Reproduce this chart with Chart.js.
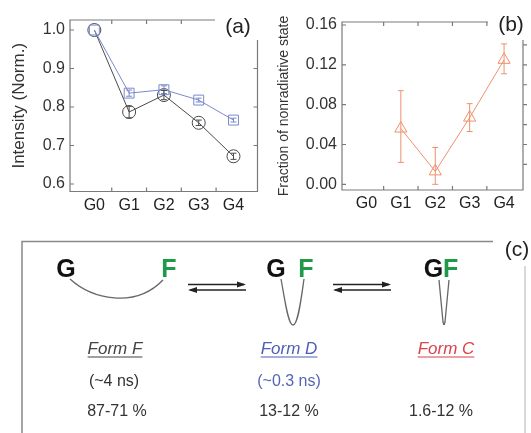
<!DOCTYPE html>
<html>
<head>
<meta charset="utf-8">
<script src="https://cdn.jsdelivr.net/npm/chart.js@4.4.1/dist/chart.umd.min.js"></script>
<style>
  body { margin: 0; background: #fff; font-family: "Liberation Sans", Arial, sans-serif; }
  #wrap { position: relative; width: 531px; height: 433px; overflow: hidden; }
  .box { position: absolute; }
  .t { position: absolute; white-space: nowrap; transform: translate(-50%, -50%); line-height: 1; }
  .lbl { font-size: 21px; color: #222; }
  .big { font-size: 25px; font-weight: bold; }
  .form { font-size: 17px; font-style: italic; text-decoration: underline; text-underline-offset: 3px; }
  .sm { font-size: 16px; color: #333; }
</style>
</head>
<body>
<div id="wrap">
  <div class="box" style="left:0;top:0;width:270px;height:215px"><canvas id="chartA"></canvas></div>
  <div class="box" style="left:260px;top:0;width:271px;height:215px"><canvas id="chartB"></canvas></div>

  <div class="t lbl" style="left:238px;top:25px">(a)</div>
  <div class="t lbl" style="left:511px;top:23px">(b)</div>
  <div class="t lbl" style="left:517px;top:248px">(c)</div>

  <!-- scheme (c) -->
  <svg class="box" style="left:0;top:0" width="531" height="433">
    <g stroke="#888" stroke-width="1.5" fill="none">
      <path d="M22 433 L22 241.5 L493 241.5"/>
      <path d="M525 266 L525 433" stroke="#ccc"/>
    </g>
    <g stroke="#666" stroke-width="1.3" fill="none">
      <path d="M70 279 C 92 299, 135 309, 163 280"/>
      <path d="M281 279 C 285 300, 288 325, 293 325 C 298 325, 301 300, 304 279"/>
      <path d="M439 280 L443 322 Q444 327 445 322 L449 280"/>
    </g>
    <g stroke="#222" stroke-width="1.3">
      <line x1="188" y1="284.5" x2="244" y2="284.5"/>
      <line x1="190" y1="290" x2="246" y2="290"/>
      <line x1="333" y1="284.5" x2="389" y2="284.5"/>
      <line x1="335" y1="290" x2="391" y2="290"/>
    </g>
    <g fill="#222">
      <path d="M246 284.5 L237 281.5 L237 287.5 Z"/>
      <path d="M188 290 L197 287 L197 293 Z"/>
      <path d="M391 284.5 L382 281.5 L382 287.5 Z"/>
      <path d="M333 290 L342 287 L342 293 Z"/>
    </g>
  </svg>

  <div class="t big" style="left:66px;top:268px;color:#111">G</div>
  <div class="t big" style="left:169px;top:268px;color:#1f9a4b">F</div>
  <div class="t big" style="left:276px;top:268px;color:#111">G</div>
  <div class="t big" style="left:306px;top:268px;color:#1f9a4b">F</div>
  <div class="t big" style="left:441px;top:268px;color:#111">G<span style="color:#1f9a4b">F</span></div>

  <div class="t form" style="left:115px;top:348px;color:#444">Form F</div>
  <div class="t form" style="left:289px;top:348px;color:#4f5fb5">Form D</div>
  <div class="t form" style="left:446px;top:348px;color:#d9434a">Form C</div>

  <div class="t sm" style="left:114px;top:381px">(~4 ns)</div>
  <div class="t sm" style="left:289px;top:381px;color:#5565b5">(~0.3 ns)</div>

  <div class="t sm" style="left:117px;top:411px">87-71 %</div>
  <div class="t sm" style="left:289px;top:411px">13-12 %</div>
  <div class="t sm" style="left:441px;top:411px">1.6-12 %</div>
</div>

<script>
// categories and values
var groups = ['G0', 'G1', 'G2', 'G3', 'G4'];

// (a) normalised intensity
var intensityF = [1.0, 0.787, 0.831, 0.759, 0.672];
var intensityFErr = [0, 0.015, 0.012, 0.007, 0.008];
var intensityD = [1.0, 0.836, 0.845, 0.818, 0.766];
var intensityDErr = [0, 0.008, 0.010, 0.005, 0.005];
var ticksA = [0.6, 0.7, 0.8, 0.9, 1.0];

// (b) fraction of nonradiative state
var fraction = [null, 0.056, 0.013, 0.067, 0.125];
var fractionErrUp = [0, 0.038, 0.024, 0.014, 0.016];
var fractionErrDown = [0, 0.034, 0.013, 0.014, 0.014];
var ticksB = [0, 0.04, 0.08, 0.12, 0.16];
var minorRightB = [0.02, 0.04, 0.06, 0.08, 0.10, 0.12, 0.14];

var font = '"Liberation Sans", Arial, sans-serif';

// vertical error bars with small caps
var errorBars = {
    id: 'errorBars',
    afterDatasetsDraw(chart) {
        var ctx = chart.ctx, ys = chart.scales.y;
        chart.data.datasets.forEach((ds, di) => {
            var meta = chart.getDatasetMeta(di);
            ctx.save();
            ctx.strokeStyle = ds.borderColor;
            ctx.lineWidth = 1;
            ds.data.forEach((p, i) => {
                if (p.y == null) return;
                var x = meta.data[i].x,
                    hi = ys.getPixelForValue(p.y + ds.errUp[i]),
                    lo = ys.getPixelForValue(p.y - ds.errDown[i]);
                if (Math.abs(lo - hi) < 1) return;
                ctx.beginPath();
                ctx.moveTo(x, hi); ctx.lineTo(x, lo);
                ctx.moveTo(x - 3, hi); ctx.lineTo(x + 3, hi);
                ctx.moveTo(x - 3, lo); ctx.lineTo(x + 3, lo);
                ctx.stroke();
            });
            ctx.restore();
        });
    }
};

// open frame with inward ticks
var frame = {
    id: 'frame',
    afterDraw(chart, args, o) {
        var a = chart.chartArea, ctx = chart.ctx,
            xs = chart.scales.x, ys = chart.scales.y;
        ctx.save();
        ctx.strokeStyle = '#7a7a7a';
        ctx.lineWidth = 1.2;
        ctx.beginPath();
        ctx.moveTo(o.topEnd, a.top);
        ctx.lineTo(a.left, a.top);
        ctx.lineTo(a.left, a.bottom);
        ctx.lineTo(a.right, a.bottom);
        ctx.lineTo(a.right, o.rightStart);
        // left ticks
        ys.ticks.forEach((t) => {
            var y = ys.getPixelForValue(t.value);
            ctx.moveTo(a.left, y); ctx.lineTo(a.left + 4, y);
        });
        // right ticks
        o.rightTicks.forEach((v) => {
            var y = ys.getPixelForValue(v);
            ctx.moveTo(a.right, y); ctx.lineTo(a.right + o.rightDir * 4, y);
        });
        // category boundaries
        for (var i = 0; i < groups.length - 1; i++) {
            var x = xs.getPixelForValue(i + 0.5);
            ctx.moveTo(x, a.bottom); ctx.lineTo(x, a.bottom - 4);
            if (x < o.topEnd) { ctx.moveTo(x, a.top); ctx.lineTo(x, a.top + 4); }
        }
        ctx.stroke();
        ctx.restore();
    }
};

function xAxis(min, max, h) {
    return {
        type: 'linear', min: min, max: max,
        afterBuildTicks: (s) => { s.ticks = groups.map((g, i) => ({value: i})); },
        afterFit: (s) => { s.height = h; },
        grid: {display: false, drawTicks: false},
        border: {display: false},
        ticks: {
            callback: (v) => groups[v],
            font: {family: font, size: 16},
            color: '#222', padding: 4, maxRotation: 0, autoSkip: false
        }
    };
}

function yAxis(min, max, w, ticks, digits, title, size, pad) {
    return {
        min: min, max: max,
        afterBuildTicks: (s) => { s.ticks = ticks.map((v) => ({value: v})); },
        afterFit: (s) => { s.width = w; },
        grid: {display: false, drawTicks: false},
        border: {display: false},
        ticks: {
            callback: (v) => v.toFixed(digits),
            font: {family: font, size: 16},
            color: '#333', padding: 5
        },
        title: {
            display: true, text: title, color: '#333',
            font: {family: font, size: size}, padding: {top: pad, bottom: 0}
        }
    };
}

new Chart(document.getElementById('chartA'), {
    type: 'line',
    data: {
        datasets: [{
            data: intensityD.map((v, i) => ({x: i, y: v})),
            errUp: intensityDErr, errDown: intensityDErr,
            borderColor: '#7b89cc', borderWidth: 1,
            pointStyle: 'rect', pointRadius: 7, pointBorderWidth: 1,
            pointBackgroundColor: 'rgba(255,255,255,0)'
        }, {
            data: intensityF.map((v, i) => ({x: i, y: v})),
            errUp: intensityFErr, errDown: intensityFErr,
            borderColor: '#4a4a4a', borderWidth: 1,
            pointStyle: 'circle', pointRadius: 6.5, pointBorderWidth: 1,
            pointBackgroundColor: 'rgba(255,255,255,0)'
        }]
    },
    options: {
        responsive: true, maintainAspectRatio: false, animation: false,
        layout: {padding: {top: 20, right: 12.5, left: 0, bottom: 0}},
        plugins: {
            legend: {display: false}, tooltip: {enabled: false},
            frame: {topEnd: 215, rightStart: 40, rightTicks: [0.7, 0.8, 0.9], rightDir: -1}
        },
        scales: {
            x: xAxis(-0.7, 4.69, 23.5),
            y: yAxis(0.5805, 1.026, 70, ticksA, 1, 'Intensity (Norm.)', 17, 9)
        }
    },
    plugins: [errorBars, frame]
});

new Chart(document.getElementById('chartB'), {
    type: 'line',
    data: {
        datasets: [{
            data: fraction.map((v, i) => ({x: i, y: v})),
            errUp: fractionErrUp, errDown: fractionErrDown,
            borderColor: '#f0906c', borderWidth: 1,
            pointStyle: 'triangle', pointRadius: 7, pointBorderWidth: 1,
            pointBackgroundColor: 'rgba(255,255,255,0)'
        }]
    },
    options: {
        responsive: true, maintainAspectRatio: false, animation: false,
        layout: {padding: {top: 22, right: 4, left: 0, bottom: 0}},
        plugins: {
            legend: {display: false}, tooltip: {enabled: false},
            frame: {topEnd: 228, rightStart: 40, rightTicks: minorRightB, rightDir: 1}
        },
        scales: {
            x: xAxis(-0.71, 4.55, 25),
            y: yAxis(-0.0057, 0.163, 82, ticksB, 2, 'Fraction of nonradiative state', 14, 16)
        }
    },
    plugins: [errorBars, frame]
});
</script>
</body>
</html>
